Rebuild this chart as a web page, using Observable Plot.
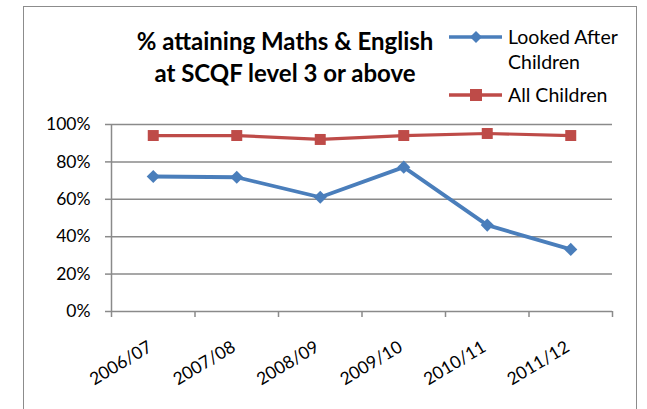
<!DOCTYPE html>
<html>
<head>
<meta charset="utf-8">
<script src="https://cdn.jsdelivr.net/npm/d3@7"></script>
<script src="https://cdn.jsdelivr.net/npm/@observablehq/plot@0.6"></script>
<style>
  html, body { margin: 0; padding: 0; background: #fff; overflow: hidden; }
  #wrap { position: relative; width: 647px; height: 409px; overflow: hidden; font-family: Lato, "Open Sans", sans-serif; }
  #frame { position: absolute; left: 23px; top: 6px; width: 614px; height: 430px; border: 1.5px solid #8c8c8c; box-sizing: border-box; }
  #title { position: absolute; left: 135px; width: 300px; top: 25px; text-align: center; font-weight: bold; font-size: 24px; line-height: 32px; color: #000; white-space: nowrap; }
  .lt { position: absolute; left: 508px; font-size: 19.5px; line-height: 25px; color: #000; white-space: nowrap; }
  .ls { position: absolute; left: 448px; }
  #chart { position: absolute; left: 0; top: 0; }
</style>
</head>
<body>
<div id="wrap">
  <div id="frame"></div>
  <div id="chart"></div>
  <div id="title">% attaining Maths &amp; English<br>at SCQF level 3 or above</div>
  <div id="leg"></div>
</div>
<script>
const categories = ["2006/07", "2007/08", "2008/09", "2009/10", "2010/11", "2011/12"];
const lookedAfter = [0.722, 0.718, 0.611, 0.772, 0.462, 0.332];
const allChildren = [0.941, 0.941, 0.920, 0.941, 0.952, 0.941];
const seriesNames = ["Looked After Children", "All Children"];
const yTicks = [0, 0.2, 0.4, 0.6, 0.8, 1.0];

const blue = "#4a7ebb";
const red = "#be4b48";
const grid = "#8a8a8a";

const rows = [
  ...categories.map((c, i) => ({cat: c, i, v: lookedAfter[i], s: seriesNames[0]})),
  ...categories.map((c, i) => ({cat: c, i, v: allChildren[i], s: seriesNames[1]}))
];
const bounds = d3.range(categories.length + 1);

const chart = Plot.plot({
  width: 647,
  height: 409,
  marginLeft: 111,
  marginRight: 35,
  marginTop: 124,
  marginBottom: 98,
  style: {fontFamily: "Lato, 'Open Sans', sans-serif", background: "transparent"},
  x: {type: "linear", domain: [0, categories.length], axis: null},
  y: {domain: [0, 1], axis: null},
  marks: [
    Plot.ruleY(yTicks, {stroke: grid, strokeWidth: 1.5}),
    Plot.ruleX([0], {stroke: grid, strokeWidth: 1.5}),
    Plot.axisY({ticks: yTicks, tickFormat: d3.format(".0%"), tickSize: 6, tickPadding: 15, stroke: grid, strokeWidth: 1.5, strokeOpacity: 1, fontSize: 17.5, fill: "#000", label: null}),
    Plot.axisX({ticks: bounds, tickFormat: () => "", tickSize: 6, stroke: grid, strokeWidth: 1.5, strokeOpacity: 1, label: null}),
    Plot.text(categories, {x: (d, i) => i + 0.5, y: () => 0, text: d => d, rotate: -31, textAnchor: "end", lineAnchor: "middle", dx: -3, dy: 34, fontSize: 17.5, fill: "#000"}),
    Plot.line(rows, {x: d => d.i + 0.5, y: "v", z: "s", stroke: d => d.s === seriesNames[0] ? blue : red, strokeWidth: d => d.s === seriesNames[0] ? 3.8 : 3.2}),
    Plot.dot(rows.filter(d => d.s === seriesNames[0]), {x: d => d.i + 0.5, y: "v", symbol: "diamond2", r: 5.9, fill: blue, stroke: "none"}),
    Plot.dot(rows.filter(d => d.s === seriesNames[1]), {x: d => d.i + 0.5, y: "v", symbol: "square", r: 6.2, fill: red, stroke: "none"})
  ]
});
document.getElementById("chart").appendChild(chart);

// legend
const leg = document.getElementById("leg");
const legItems = [
  {lines: [["Looked After", 24], ["Children", 49]], color: blue, sym: "diamond", y: 37},
  {lines: [["All Children", 82]], color: red, sym: "square", y: 95}
];
legItems.forEach(it => {
  const s = document.createElement("div");
  s.className = "ls";
  s.style.top = (it.y - 10) + "px";
  const marker = it.sym === "diamond"
    ? `<path d="M28,4 L34,10 L28,16 L22,10 Z" fill="${it.color}"/>`
    : `<rect x="22" y="4" width="12" height="12" fill="${it.color}"/>`;
  s.innerHTML = `<svg width="56" height="20" style="display:block"><line x1="1" x2="54" y1="10" y2="10" stroke="${it.color}" stroke-width="3.5"/>${marker}</svg>`;
  leg.appendChild(s);
  it.lines.forEach(([t, top]) => {
    const d = document.createElement("div");
    d.className = "lt";
    d.style.top = top + "px";
    d.textContent = t;
    leg.appendChild(d);
  });
});
</script>
</body>
</html>
